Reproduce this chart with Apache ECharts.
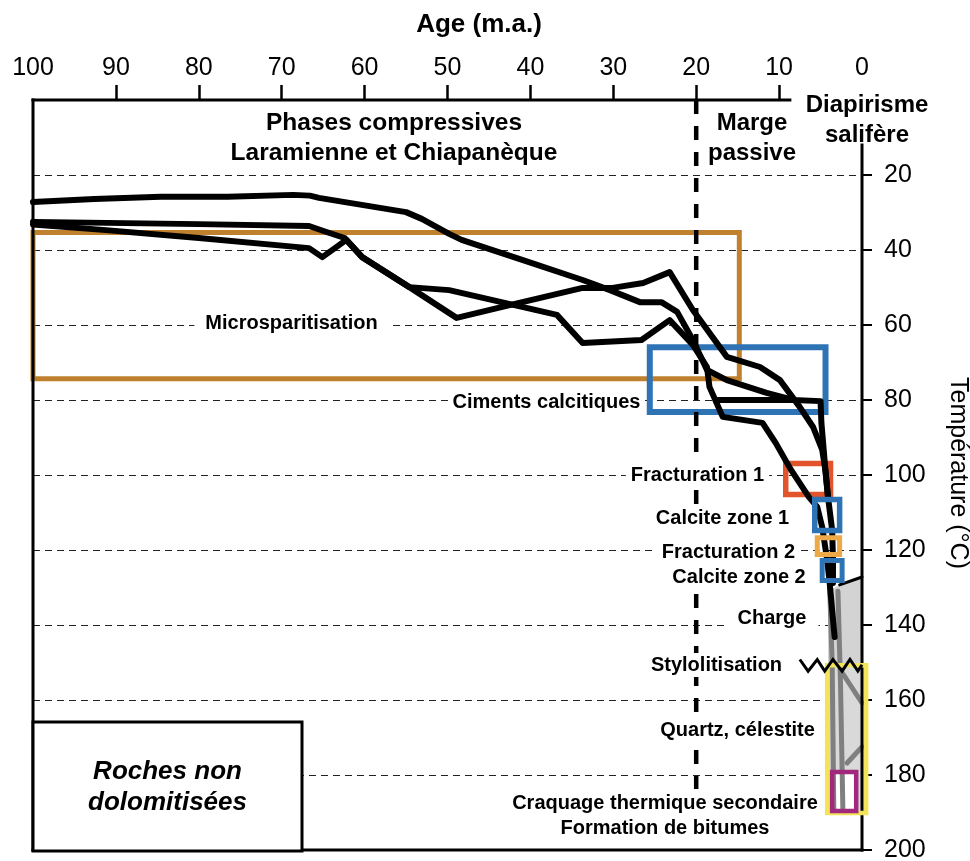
<!DOCTYPE html>
<html><head><meta charset="utf-8">
<script src="https://cdn.jsdelivr.net/npm/echarts@6/dist/echarts.min.js"></script>
<style>html,body{margin:0;padding:0;background:#fff}#c{width:970px;height:861px}</style>
</head><body><div id="c"></div>
<script>
// ---- axis tick values ----
const xTickValues = [90, 80, 70, 60, 50, 40, 30, 20, 10];
const xLabelValues = [100, 90, 80, 70, 60, 50, 40, 30, 20, 10, 0];
const yTickValues = [20, 40, 60, 80, 100, 120, 140, 160, 180, 200];

// ---- burial/thermal histories [age Ma, temperature °C] ----
const curveA = [[100,27.2],[92.6,26.4],[84.6,25.8],[76.5,25.8],[68.6,25.3],[66.6,25.5],[65.5,26.1],[55.0,29.9],[53.1,31.7],[49.8,35.7],[48.3,37.3],[40.9,42.7],[33.7,48.0],[30.4,50.7],[26.8,53.9],[24.2,53.9],[22.3,56.5],[20.4,64.0],[18.7,72.0],[16.3,74.7],[11.5,78.1],[8.3,80.0],[5.0,80.3],[4.9,86.0],[4.4,99.0],[4.1,105.9]];
const curveB = [[100,32.5],[80,33.1],[66.7,33.6],[64.6,35.2],[62.4,36.8],[60.3,41.9],[54.6,49.9],[49.8,50.7],[36.8,57.3],[33.7,64.8],[26.6,64.0],[23.2,58.7],[20.4,65.3],[18.7,71.2],[18.4,76.5],[16.8,84.5],[12.0,86.1],[10.4,91.5],[8.6,98.5],[6.4,105.9],[5.4,108.5],[4.8,113.9],[4.2,122.7],[3.9,128.8],[3.3,143.2]];
const curveC = [[100,33.2],[91.2,34.7],[80,36.8],[66.7,39.5],[65.1,41.9],[62.2,37.3],[60.3,41.9],[54.6,49.9],[48.9,58.1],[42.5,54.7],[33.7,50.1],[30.1,50.1],[26.4,48.8],[23.2,45.9],[20.4,56.0],[16.3,68.5],[12.3,71.2],[9.9,74.7],[7.5,81.9],[5.9,87.2],[4.8,93.3],[4.4,99.0],[4.1,105.9],[3.6,114.7],[3.5,122.7],[3.5,128.8]];
const curveD = [[17.4,80.0],[8.3,80.0]];
const grayLine1 = [[3.9,130.0],[3.6,150.0],[3.4,190.0]];
const grayLine2 = [[2.9,131.0],[2.6,155.0],[2.3,190.0]];
const grayLine3 = [[2.6,152.0],[0,160.8]];
const grayLine4 = [[1.8,176.8],[0,172.5]];
const chargeArea = [[4.1,131.0],[2.7,129.3],[0,127.2],[0,150.5],[4.1,150.5]];
const chargeTop = [[2.7,129.3],[0,127.2]];
const stylolite = [[7.5,149.2],[6.5,152.3],[5.4,149.2],[4.5,152.3],[3.5,149.2],[2.4,152.3],[1.45,149.2],[0.5,152.3],[0,150.6]];
const passiveMargin = [[20,0],[20,200]];

// ---- diagenetic phase boxes ----
const boxNames = ['Microsparitisation','Ciments calcitiques','Fracturation 1','Calcite zone 1','Fracturation 2','Calcite zone 2','Quartz, célestite','Craquage thermique secondaire'];
const boxAgeFrom = [100, 25.6, 9.2, 5.7, 5.4, 4.8, 4.2, 3.6];
const boxAgeTo   = [14.8, 4.4, 3.8, 2.7, 2.7, 2.4, -0.5, 0.7];
const boxTempFrom = [35.3, 65.9, 96.9, 106.5, 116.7, 122.8, 150.7, 179.2];
const boxTempTo   = [74.3, 83.2, 105.2, 114.8, 121.2, 128.1, 190.1, 189.6];

// ---- frame ----
const frameTop = [[100,0],[8.7,0]];
const frameLeft = [[100,0],[100,200]];
const frameBottom = [[100,200],[0,200]];
const frameRight = [[0,12],[0,200]];

// ---- styles ----
const boxColors = ['#C0812F','#2E74B5','#E2552C','#2E74B5','#EDA948','#2E74B5','#F2E35A','#A2287E'];
const boxWidths = [5, 6, 5.5, 5.5, 5, 5, 4.5, 4.5];
const boxFills = [null, null, null, null, null, null, '#D9D9D9', '#FFFFFF'];
const FF = '"Liberation Sans", Arial, Helvetica, sans-serif';

const chart = echarts.init(document.getElementById('c'), null, {renderer: 'canvas'});

function lineSeries(data, color, width, z, extra) {
  return Object.assign({
    type: 'line', data: data, showSymbol: false, symbol: 'none', clip: false, silent: true,
    z: z, animation: false,
    lineStyle: {color: color, width: width, join: 'round', cap: 'round'}
  }, extra || {});
}
function boxSeries(indices, z, mode) {
  return {
    type: 'custom', z: z, silent: true, clip: false, animation: false,
    data: indices.map(i => [boxAgeFrom[i], boxAgeTo[i], boxTempFrom[i], boxTempTo[i], i]),
    encode: {x: [0, 1], y: [2, 3]},
    renderItem: function (params, api) {
      const i = api.value(4);
      const p1 = api.coord([api.value(0), api.value(2)]);
      const p2 = api.coord([api.value(1), api.value(3)]);
      const shape = {x: Math.min(p1[0], p2[0]), y: Math.min(p1[1], p2[1]),
        width: Math.abs(p2[0] - p1[0]), height: Math.abs(p2[1] - p1[1])};
      if (mode === 'fill') {
        if (!boxFills[i]) return null;
        return {type: 'rect', shape: shape, style: {fill: boxFills[i], stroke: null}};
      }
      return {type: 'rect', shape: shape, style: {fill: 'none', stroke: boxColors[i], lineWidth: boxWidths[i]}};
    }
  };
}

function txt(text, x, y, font, extra) {
  return {type: 'text', x: x, y: y, z: 100, silent: true,
    style: Object.assign({text: text, font: font, fill: '#000', align: 'center', verticalAlign: 'middle'}, extra || {})};
}
const BG = {backgroundColor: '#fff', padding: [2, 5]};

const option = {
  animation: false,
  backgroundColor: '#fff',
  grid: {left: 33, right: 108, top: 100, bottom: 11, containLabel: false, outerBoundsMode: 'none'},
  xAxis: {
    type: 'value', position: 'top', inverse: true, min: 0, max: 100, interval: 10,
    axisLine: {show: false},
    axisTick: {show: true, inside: false, length: 15, customValues: xTickValues, lineStyle: {color: '#000', width: 2.5}},
    axisLabel: {customValues: xLabelValues, margin: 19, color: '#000', fontSize: 25, fontFamily: FF},
    splitLine: {show: false}
  },
  yAxis: {
    type: 'value', position: 'right', inverse: true, min: 0, max: 200, interval: 20,
    axisLine: {show: false},
    axisTick: {show: true, inside: false, length: 10, customValues: yTickValues, lineStyle: {color: '#000', width: 2}},
    axisLabel: {customValues: yTickValues, margin: 22, color: '#000', fontSize: 25, fontFamily: FF},
    splitLine: {show: true, showMinLine: true, showMaxLine: false, lineStyle: {color: '#222', width: 1, type: [7, 5]}}
  },
  series: [
    {
      type: 'custom', z: 1, silent: true, clip: false, animation: false,
      data: chargeArea, encode: {x: 0, y: 1},
      renderItem: function (params, api) {
        if (params.dataIndex !== 0) return null;
        return {type: 'polygon', shape: {points: chargeArea.map(p => api.coord(p))}, style: {fill: '#D3D3D3'}};
      }
    },
    boxSeries([6, 7], 1, 'fill'),
    boxSeries([0, 1, 2], 2, 'stroke'),
    lineSeries(passiveMargin, '#000', 4.5, 3, {lineStyle: {color: '#000', width: 4.5, type: [14, 12], cap: 'butt'}}),
    lineSeries(grayLine1, '#7F7F7F', 5, 4),
    lineSeries(grayLine2, '#7F7F7F', 5, 4),
    lineSeries(grayLine3, '#7F7F7F', 5, 4),
    lineSeries(grayLine4, '#7F7F7F', 5, 4),
    lineSeries(chargeTop, '#000', 3, 4),
    lineSeries(curveA, '#000', 6, 4),
    lineSeries(curveB, '#000', 6, 4),
    lineSeries(curveC, '#000', 6, 4),
    lineSeries(curveD, '#000', 6, 4),
    lineSeries(frameTop, '#000', 3, 5, {lineStyle: {color: '#000', width: 3, cap: 'square'}}),
    lineSeries(frameLeft, '#000', 3, 5, {lineStyle: {color: '#000', width: 3, cap: 'square'}}),
    lineSeries(frameBottom, '#000', 3, 5, {lineStyle: {color: '#000', width: 3, cap: 'square'}}),
    lineSeries(frameRight, '#000', 3, 5, {lineStyle: {color: '#000', width: 3, cap: 'square'}}),
    boxSeries([3, 4, 5, 6, 7], 6, 'stroke'),
    lineSeries(stylolite, '#000', 3, 7, {lineStyle: {color: '#000', width: 3, join: 'miter', cap: 'butt'}})
  ],
  graphic: [
    txt('Age (m.a.)', 479, 25, 'bold 26px ' + FF),
    txt('Température (°C)', 958, 473, '25px ' + FF),
    txt('Phases compressives\nLaramienne et Chiapanèque', 394, 138, 'bold 24.5px ' + FF, {lineHeight: 30}),
    txt('Marge\npassive', 752, 138, 'bold 24px ' + FF, {lineHeight: 30}),
    txt('Diapirisme\nsalifère', 867, 120, 'bold 24px ' + FF, {lineHeight: 30}),
    txt('Microsparitisation', 291.5, 323, 'bold 20px ' + FF, {backgroundColor: '#fff', padding: [2, 11]}),
    txt('Ciments calcitiques', 546.5, 402, 'bold 20px ' + FF, {backgroundColor: '#fff', padding: [2, 3]}),
    txt('Fracturation 1', 697.5, 475, 'bold 20px ' + FF, BG),
    txt('Calcite zone 1', 722.5, 518, 'bold 20px ' + FF, BG),
    txt('Fracturation 2', 728.5, 552, 'bold 20px ' + FF, BG),
    txt('Calcite zone 2', 739, 577, 'bold 20px ' + FF, BG),
    txt('Charge', 772, 618, 'bold 20px ' + FF, {backgroundColor: '#fff', padding: [2, 12]}),
    txt('Stylolitisation', 716.5, 665, 'bold 20px ' + FF, BG),
    txt('Quartz, célestite', 737.5, 730, 'bold 20px ' + FF, BG),
    txt('Craquage thermique secondaire\nFormation de bitumes', 665, 816, 'bold 20px ' + FF, {backgroundColor: '#fff', padding: [2, 5], lineHeight: 25}),
    {type: 'rect', z: 90, silent: true, shape: {x: 33, y: 722, width: 269, height: 129},
      style: {fill: '#fff', stroke: '#000', lineWidth: 3}},
    txt('Roches non\ndolomitisées', 167.5, 787, 'italic bold 26px ' + FF, {lineHeight: 31})
  ]
};
option.graphic[1].rotation = -Math.PI / 2;
chart.setOption(option);
</script>
</body></html>
